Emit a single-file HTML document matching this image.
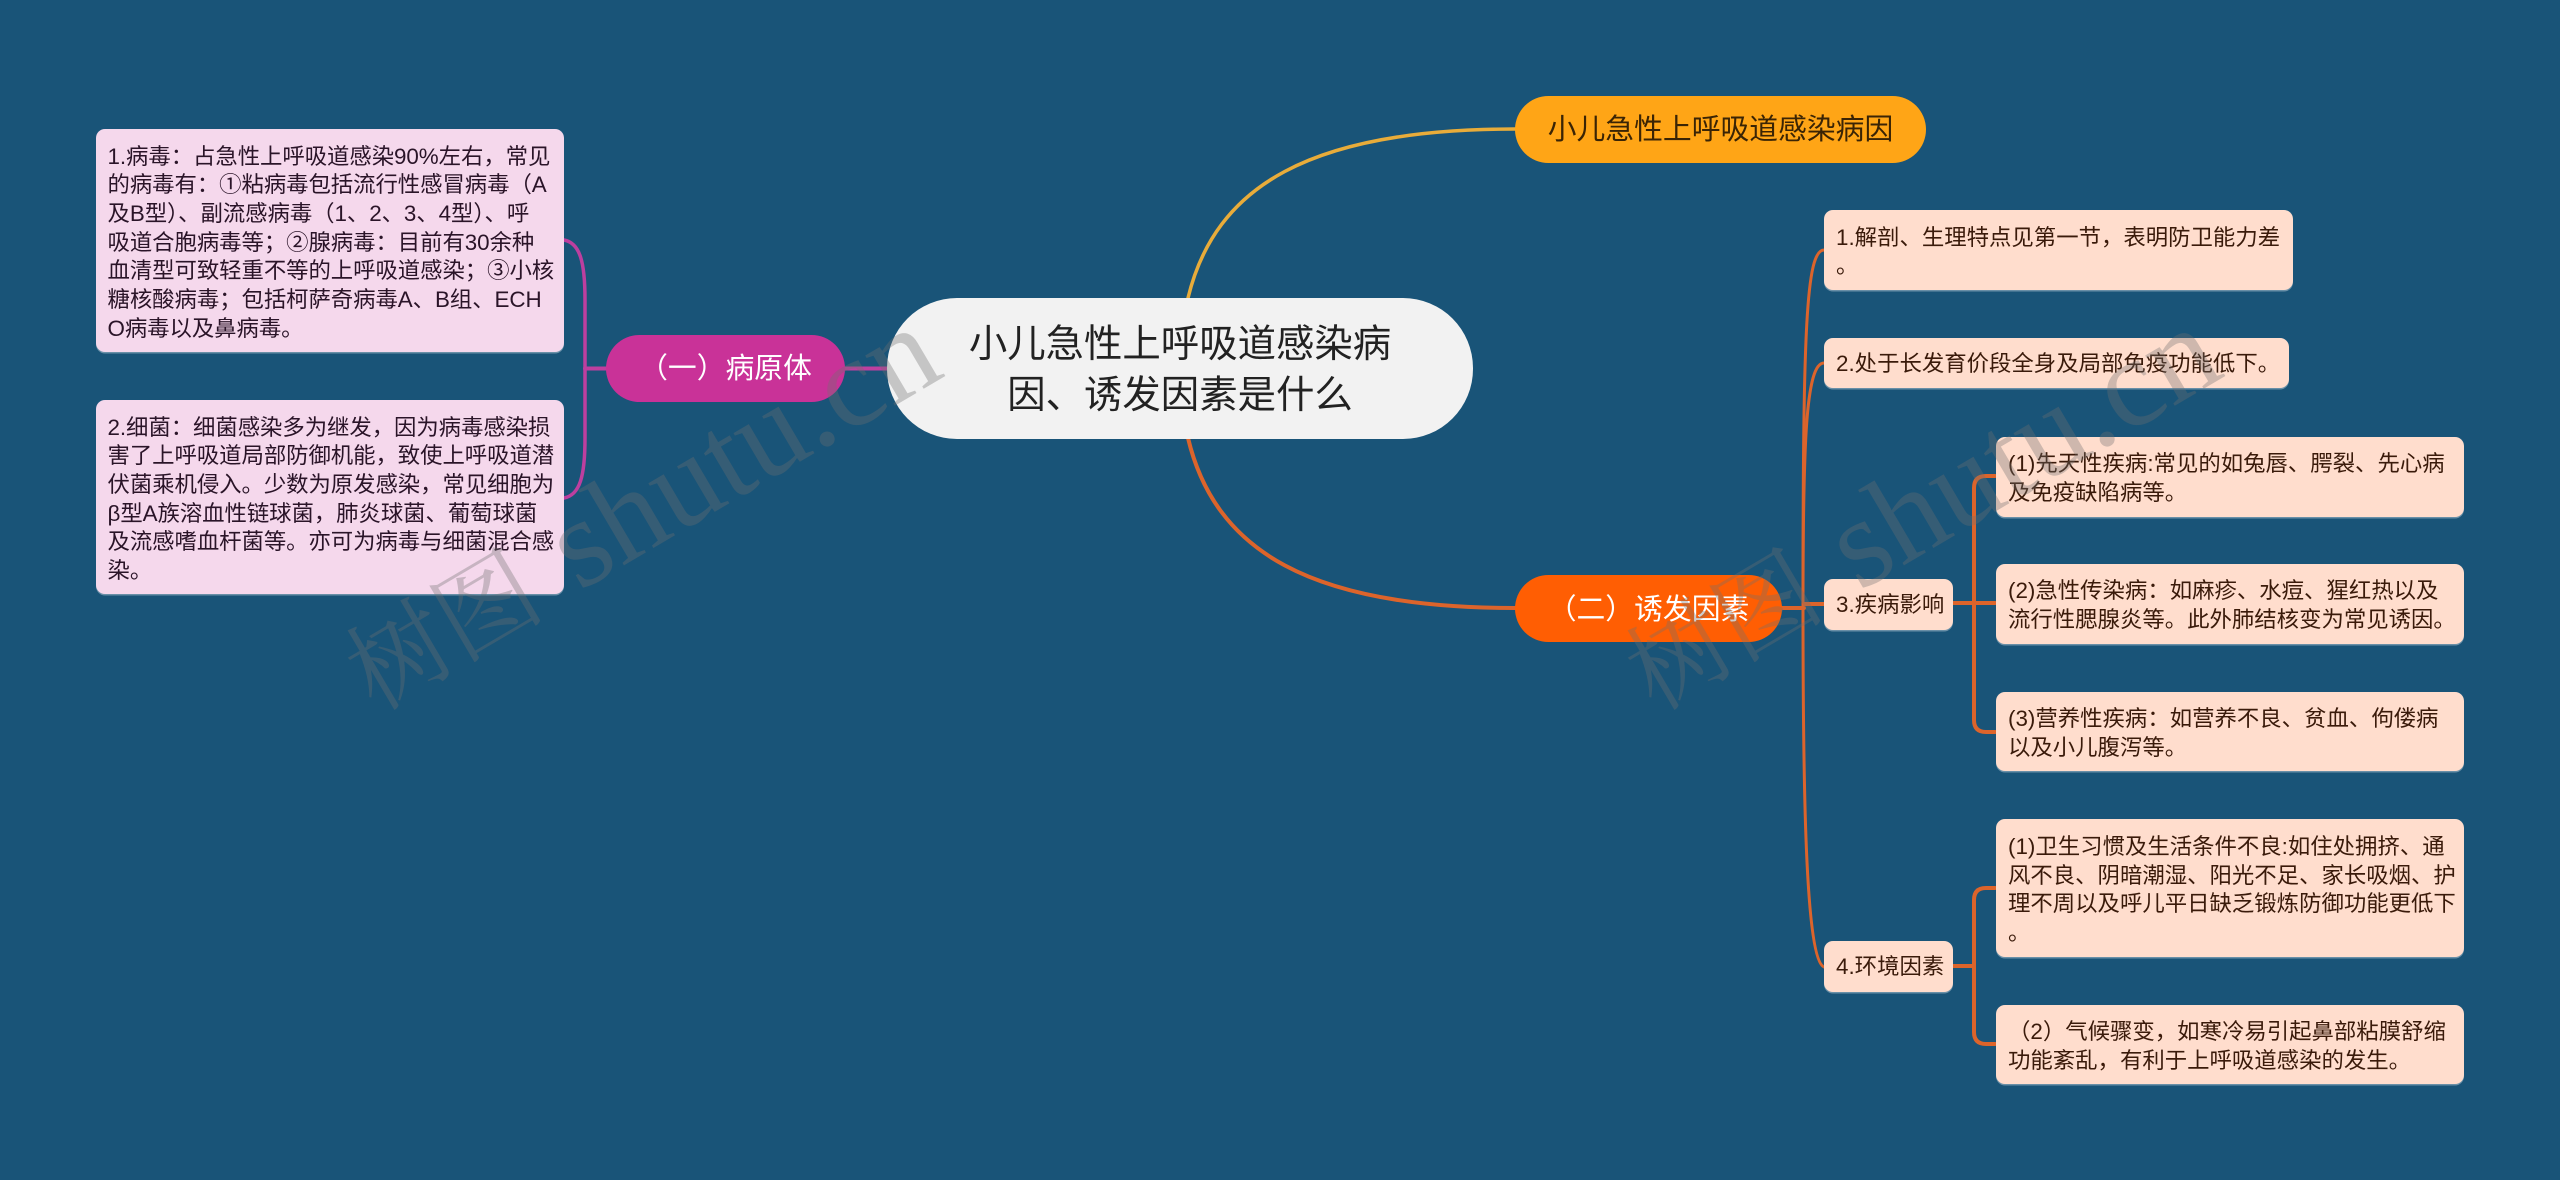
<!DOCTYPE html>
<html lang="zh-CN">
<head>
<meta charset="utf-8">
<title>小儿急性上呼吸道感染病因、诱发因素是什么</title>
<style>
html,body{margin:0;padding:0;width:2560px;height:1180px;overflow:hidden;background:#195478}
body{position:relative;font-family:"Liberation Sans","Noto Sans CJK SC",sans-serif}
svg{position:absolute;left:0;top:0}
.n{position:absolute;box-sizing:border-box;white-space:pre}
.b{font-size:22.4px;line-height:28.7px;border-radius:9px;padding-left:11.5px;box-shadow:0 1.5px 0 rgba(255,255,255,.35)}
.l{background:#f5d8ec;color:#2a1428;letter-spacing:-.06px}
.r{background:#ffddcd;color:#3a1a0a}
.p{font-size:28.8px;text-align:center;border-radius:34px}
</style>
</head>
<body>
<svg width="2560" height="1180" fill="none" stroke-linecap="round">
  <path d="M887 368.5H585" stroke="#bd3f9f" stroke-width="4"/>
  <path d="M564 240C580 243 585 262 585 300V438C585 476 580 495 564 498" stroke="#bd3f9f" stroke-width="3.5"/>
  <path d="M1188 298C1215 186 1310 129 1515 129" stroke="#e8ac3a" stroke-width="3.5"/>
  <path d="M1188 438C1215 551 1310 608 1515 608" stroke="#dc642b" stroke-width="4"/>
  <path d="M1782 608H1804" stroke="#dc642b" stroke-width="4"/>
  <path d="M1804 604H1824" stroke="#dc642b" stroke-width="4"/>
  <path d="M1803 607C1803 330 1806 250 1824 250" stroke="#dc642b" stroke-width="3"/>
  <path d="M1803 607C1803 440 1806 363 1824 363" stroke="#dc642b" stroke-width="3"/>
  <path d="M1803 607C1803 800 1806 960 1824 967" stroke="#dc642b" stroke-width="3"/>
  <path d="M1953 603H1995" stroke="#dc642b" stroke-width="4"/>
  <path d="M1995 476H1986Q1974 476 1974 488V720Q1974 732 1986 732H1995" stroke="#dc642b" stroke-width="4"/>
  <path d="M1953 966H1974" stroke="#dc642b" stroke-width="4"/>
  <path d="M1995 888H1986Q1974 888 1974 900V1032Q1974 1044 1986 1044H1995" stroke="#dc642b" stroke-width="4"/>
</svg>

<div class="n" style="left:887px;top:298px;width:586px;height:141px;background:#f2f2f2;border-radius:70px;color:#222;font-size:38.4px;line-height:51.7px;text-align:center;padding-top:20.5px">小儿急性上呼吸道感染病
因、诱发因素是什么</div>

<div class="n p" style="left:606px;top:335px;width:239px;height:67px;background:#c93298;color:#fff;line-height:69px">（一）病原体</div>
<div class="n p" style="left:1515px;top:96px;width:411px;height:67px;background:#ffa516;color:#3a2405;line-height:69px">小儿急性上呼吸道感染病因</div>
<div class="n p" style="left:1515px;top:575px;width:267px;height:67px;background:#ff5e03;color:#fff;line-height:70px">（二）诱发因素</div>

<div class="n b l" style="left:96px;top:129px;width:468px;height:223px;padding-top:13.5px">1.病毒：占急性上呼吸道感染90%左右，常见
的病毒有：①粘病毒包括流行性感冒病毒（A
及B型）、副流感病毒（1、2、3、4型）、呼
吸道合胞病毒等；②腺病毒：目前有30余种
血清型可致轻重不等的上呼吸道感染；③小核
糖核酸病毒；包括柯萨奇病毒A、B组、ECH
O病毒以及鼻病毒。</div>
<div class="n b l" style="left:96px;top:400px;width:468px;height:194px;padding-top:13.5px">2.细菌：细菌感染多为继发，因为病毒感染损
害了上呼吸道局部防御机能，致使上呼吸道潜
伏菌乘机侵入。少数为原发感染，常见细胞为
β型A族溶血性链球菌，肺炎球菌、葡萄球菌
及流感嗜血杆菌等。亦可为病毒与细菌混合感
染。</div>

<div class="n b r" style="left:1824px;top:210px;width:469px;height:80px;padding-top:13.5px;padding-left:12px">1.解剖、生理特点见第一节，表明防卫能力差
。</div>
<div class="n b r" style="left:1824px;top:338px;width:465px;height:50px;padding-top:12px;padding-left:12px">2.处于长发育价段全身及局部免疫功能低下。</div>
<div class="n b r" style="left:1824px;top:579px;width:129px;height:51px;padding-top:12px;padding-left:12px">3.疾病影响</div>
<div class="n b r" style="left:1824px;top:941px;width:129px;height:51px;padding-top:12px;padding-left:12px">4.环境因素</div>

<div class="n b r" style="left:1996px;top:437px;width:468px;height:80px;padding-top:13px;padding-left:12px">(1)先天性疾病:常见的如兔唇、腭裂、先心病
及免疫缺陷病等。</div>
<div class="n b r" style="left:1996px;top:564px;width:468px;height:80px;padding-top:13px;padding-left:12px">(2)急性传染病：如麻疹、水痘、猩红热以及
流行性腮腺炎等。此外肺结核变为常见诱因。</div>
<div class="n b r" style="left:1996px;top:692px;width:468px;height:79px;padding-top:13px;padding-left:12px">(3)营养性疾病：如营养不良、贫血、佝偻病
以及小儿腹泻等。</div>
<div class="n b r" style="left:1996px;top:819px;width:468px;height:138px;padding-top:14px;padding-left:12px">(1)卫生习惯及生活条件不良:如住处拥挤、通
风不良、阴暗潮湿、阳光不足、家长吸烟、护
理不周以及呼儿平日缺乏锻炼防御功能更低下
。</div>
<div class="n b r" style="left:1996px;top:1005px;width:468px;height:79px;padding-top:13px;padding-left:12px">（2）气候骤变，如寒冷易引起鼻部粘膜舒缩
功能紊乱，有利于上呼吸道感染的发生。</div>

<svg width="2560" height="1180" style="pointer-events:none">
  <g font-family="'Liberation Serif','Noto Serif CJK SC',serif" fill="#6f6f6f" fill-opacity=".34">
    <g transform="rotate(-30.5 375 712)">
      <text x="375" y="712" font-size="100">树图</text>
      <text x="612" y="712" font-size="127">shutu.cn</text>
    </g>
    <g transform="rotate(-30.5 1655 712)">
      <text x="1655" y="712" font-size="100">树图</text>
      <text x="1892" y="712" font-size="127">shutu.cn</text>
    </g>
  </g>
</svg>
</body>
</html>
